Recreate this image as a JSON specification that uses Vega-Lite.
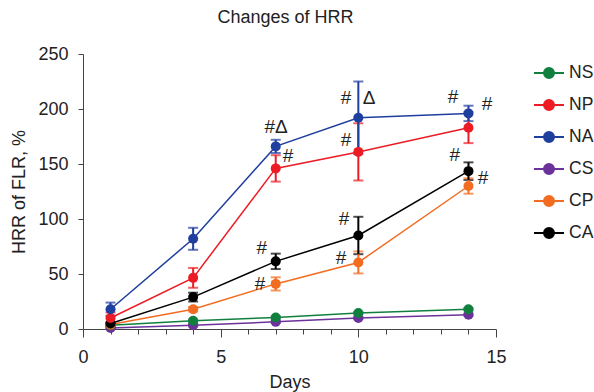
{
  "$schema": "https://vega.github.io/schema/vega-lite/v6.json",
  "width": 413,
  "height": 275,
  "autosize": {"type": "none"},
  "padding": {"left": 83, "top": 54, "right": 98, "bottom": 63},
  "background": "white",
  "title": {"text": "Changes of HRR", "font": "Liberation Sans", "fontSize": 18, "fontWeight": "normal", "color": "#222", "anchor": "middle", "frame": "group", "dx": -4, "offset": 18},
  "config": {
    "view": {"stroke": null},
    "font": "Liberation Sans",
    "axis": {"grid": false, "domainColor": "#444", "tickColor": "#444", "labelFont": "Liberation Sans", "labelFontSize": 18, "labelColor": "#222", "titleFont": "Liberation Sans", "titleFontSize": 18, "titleFontWeight": "normal", "titleColor": "#222", "labelOverlap": false}
  },
  "resolve": {"axis": {"x": "independent"}},
  "datasets": {
    "series": [
      {"group": "CS", "day": 1, "mean": 1, "err": 0.5},
      {"group": "CS", "day": 4, "mean": 3.5, "err": 1},
      {"group": "CS", "day": 7, "mean": 6.5, "err": 1},
      {"group": "CS", "day": 10, "mean": 10, "err": 1},
      {"group": "CS", "day": 14, "mean": 13, "err": 1},
      {"group": "NS", "day": 1, "mean": 3.5, "err": 1},
      {"group": "NS", "day": 4, "mean": 7.5, "err": 1},
      {"group": "NS", "day": 7, "mean": 10.5, "err": 1},
      {"group": "NS", "day": 10, "mean": 14.5, "err": 1},
      {"group": "NS", "day": 14, "mean": 18, "err": 1},
      {"group": "CP", "day": 1, "mean": 4, "err": 1},
      {"group": "CP", "day": 4, "mean": 18, "err": 2},
      {"group": "CP", "day": 7, "mean": 41, "err": 6},
      {"group": "CP", "day": 10, "mean": 60.5, "err": 10},
      {"group": "CP", "day": 14, "mean": 130, "err": 7},
      {"group": "CA", "day": 1, "mean": 5, "err": 1},
      {"group": "CA", "day": 4, "mean": 29, "err": 4},
      {"group": "CA", "day": 7, "mean": 61.5, "err": 7},
      {"group": "CA", "day": 10, "mean": 85, "err": 17},
      {"group": "CA", "day": 14, "mean": 143.5, "err": 8},
      {"group": "NP", "day": 1, "mean": 10, "err": 5},
      {"group": "NP", "day": 4, "mean": 46.5, "err": 9},
      {"group": "NP", "day": 7, "mean": 146, "err": 12},
      {"group": "NP", "day": 10, "mean": 161, "err": 26},
      {"group": "NP", "day": 14, "mean": 183, "err": 14},
      {"group": "NA", "day": 1, "mean": 18, "err": 6},
      {"group": "NA", "day": 4, "mean": 82, "err": 10},
      {"group": "NA", "day": 7, "mean": 166, "err": 6},
      {"group": "NA", "day": 10, "mean": 192, "err": 33},
      {"group": "NA", "day": 14, "mean": 196, "err": 7}
    ],
    "marks": [
      {"day": 7.01, "value": 184, "text": "#Δ"},
      {"day": 7.45, "value": 157, "text": "#"},
      {"day": 9.55, "value": 210, "text": "#"},
      {"day": 10.39, "value": 210, "text": "Δ"},
      {"day": 9.55, "value": 172, "text": "#"},
      {"day": 13.44, "value": 211, "text": "#"},
      {"day": 14.67, "value": 205, "text": "#"},
      {"day": 13.5, "value": 158, "text": "#"},
      {"day": 14.53, "value": 137, "text": "#"},
      {"day": 6.49, "value": 74, "text": "#"},
      {"day": 6.43, "value": 41, "text": "#"},
      {"day": 9.48, "value": 100, "text": "#"},
      {"day": 9.37, "value": 65, "text": "#"}
    ]
  },
  "layer": [
    {
      "data": {"name": "series"},
      "mark": {"type": "line", "strokeWidth": 1.5},
      "encoding": {
        "x": {"field": "day", "type": "quantitative", "title": "Days", "scale": {"domain": [0, 15], "nice": false},
          "axis": {"orient": "bottom", "values": [0, 5, 10, 15], "labelOverlap": false, "tickSize": 8, "labelPadding": 11, "titlePadding": 7, "labelFlush": false, "labelBound": false}},
        "y": {"field": "mean", "type": "quantitative", "title": "HRR of FLR, %", "scale": {"domain": [0, 250], "nice": false},
          "axis": {"values": [0, 50, 100, 150, 200, 250], "labelOverlap": false, "tickSize": 5, "labelPadding": 10, "titlePadding": 9}},
        "color": {"field": "group", "type": "nominal",
          "scale": {"domain": ["NS", "NP", "NA", "CS", "CP", "CA"], "range": ["#11803f", "#ed1c24", "#1f3f9f", "#6a329a", "#f26c21", "#000000"]},
          "legend": {"title": null, "orient": "none", "legendX": 450, "legendY": 3, "padding": 0, "symbolType": "M-1,0H1M0.333,0A0.333,0.333,0,1,1,-0.333,0A0.333,0.333,0,1,1,0.333,0Z", "symbolSize": 900, "symbolStrokeWidth": 2, "rowPadding": 7, "labelOffset": 4, "labelFont": "Liberation Sans", "labelFontSize": 17.5, "labelColor": "#222", "labelLimit": 60,
            "encode": {"symbols": {"update": {"fill": {"scale": "color", "field": "value"}, "stroke": {"scale": "color", "field": "value"}, "fillOpacity": {"value": 1}}}}}},
        "detail": {"field": "group"},
        "order": {"field": "day"}
      }
    },
    {
      "data": {"name": "series"},
      "mark": {"type": "errorbar", "ticks": {"size": 10}, "thickness": 2},
      "encoding": {
        "x": {"field": "day", "type": "quantitative", "title": null,
          "axis": {"orient": "bottom", "values": [1, 2, 3, 4, 6, 7, 8, 9, 11, 12, 13, 14], "labels": false, "domain": false, "tickSize": 5, "title": null}},
        "y": {"field": "mean", "type": "quantitative", "title": "HRR of FLR, %"},
        "yError": {"field": "err"},
        "color": {"field": "group", "type": "nominal", "legend": null}
      }
    },
    {
      "data": {"name": "series"},
      "mark": {"type": "circle", "size": 100, "opacity": 1},
      "encoding": {
        "x": {"field": "day", "type": "quantitative", "axis": null},
        "y": {"field": "mean", "type": "quantitative", "title": "HRR of FLR, %"},
        "color": {"field": "group", "type": "nominal", "legend": null}
      }
    },
    {
      "data": {"name": "marks"},
      "mark": {"type": "text", "font": "Liberation Sans", "fontSize": 19, "color": "#222", "baseline": "middle", "align": "center"},
      "encoding": {
        "x": {"field": "day", "type": "quantitative", "axis": null},
        "y": {"field": "value", "type": "quantitative", "title": "HRR of FLR, %"},
        "text": {"field": "text"}
      }
    }
  ]
}
